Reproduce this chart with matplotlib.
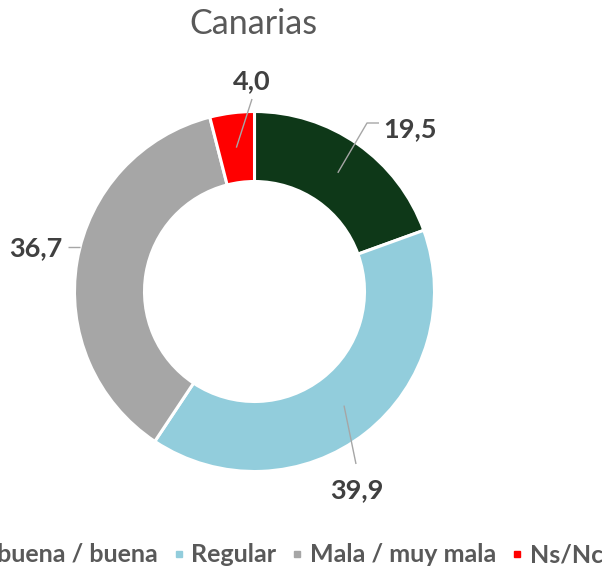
import matplotlib
matplotlib.use("Agg")
import matplotlib.pyplot as plt
from matplotlib.lines import Line2D
import numpy as np

categories = ["Muy buena / buena", "Regular", "Mala / muy mala", "Ns/Nc"]
values = [19.5, 39.9, 36.7, 4.0]
labels = ["19,5", "39,9", "36,7", "4,0"]
colors = ["#0E3818", "#92CDDC", "#A6A6A6", "#FF0000"]
title = "Canarias"

W, H = 602, 568
fig = plt.figure(figsize=(W / 100, H / 100), dpi=100)
ax = fig.add_axes([0, 0, 1, 1])

cx, cy, R, ring = 254.5, H - 291.5, 180, 70
wedges, _ = ax.pie(values, colors=colors, startangle=90, counterclock=False,
                   center=(cx, cy), radius=R,
                   wedgeprops=dict(width=ring, edgecolor="white", linewidth=2.2))
ax.set_xlim(0, W)
ax.set_ylim(0, H)
ax.set_aspect("auto")
ax.axis("off")

font = "Lato"
lab_color = "#404040"
line_color = "#A6A6A6"

total = sum(values)
angles = []
acc = 0
for v in values:
    mid = 90 - 360 * (acc + v / 2) / total
    angles.append(mid)
    acc += v

layout = {
    0: dict(text=(410, 129), pts="radial", elbow=[(367, 123), (379, 123)]),
    1: dict(text=(357, 490), pts="radial", elbow=[(356, 464)]),
    2: dict(text=(36, 248), pts="edge", elbow=[(68, 247)]),
    3: dict(text=(252, 81), pts="radial", elbow=[(252, 99)]),
}
for i, lab in enumerate(labels):
    L = layout[i]
    if L["pts"] == "radial":
        a = np.deg2rad(angles[i])
        x0, y0 = cx + (R - ring / 2) * np.cos(a), cy + (R - ring / 2) * np.sin(a)
    else:
        yy = L["elbow"][0][1]
        dy = (H - yy) - cy
        x0 = cx - np.sqrt(R ** 2 - dy ** 2)
        y0 = H - yy
    xs = [x0] + [p[0] for p in L["elbow"]]
    ys = [y0] + [H - p[1] for p in L["elbow"]]
    ax.plot(xs, ys, color=line_color, lw=1.0, solid_capstyle="butt")
    tx, ty = L["text"]
    ax.text(tx, H - ty, lab, ha="center", va="center", fontsize=19.5,
            fontweight="bold", color=lab_color, family=font)

fig.text(253 / W, 1 - 24 / H, title, ha="center", va="center",
         fontsize=24.5, color="#595959", family=font)

handles = [Line2D([], [], marker="s", linestyle="none", markersize=5,
                  markerfacecolor=c, markeredgecolor=c) for c in colors]
leg = fig.legend(handles, categories, loc="center", ncol=4,
                 bbox_to_anchor=(262 / W, 1 - 555 / H), frameon=False,
                 handlelength=0.5, handletextpad=0.25, columnspacing=0.59,
                 prop=dict(family=font, weight="bold", size=18))
for t in leg.get_texts():
    t.set_color("#595959")

fig.savefig("out.png", dpi=100)
